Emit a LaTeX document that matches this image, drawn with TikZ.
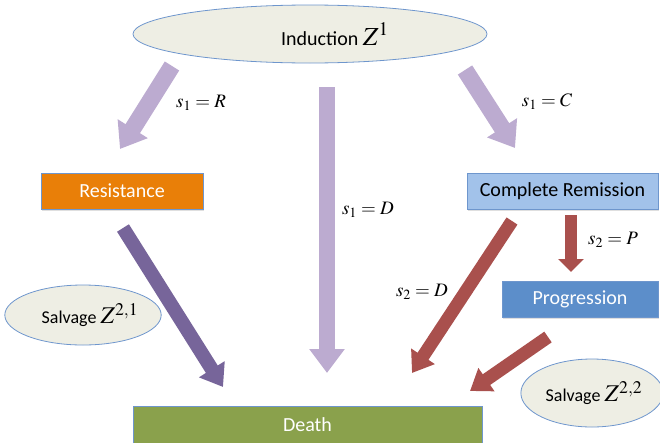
\documentclass[tikz,border=0pt]{standalone}
\usepackage{mathptmx}
\usepackage{fontspec}
\setmainfont{Carlito}
\usetikzlibrary{arrows.meta,shapes.geometric,shadows}

\definecolor{edgeblue}{RGB}{110,150,205}
\definecolor{phasefill}{RGB}{238,238,228}
\definecolor{lavender}{RGB}{188,171,208}
\definecolor{plum}{RGB}{119,101,154}
\definecolor{brick}{RGB}{169,80,77}
\definecolor{resorange}{RGB}{233,127,8}
\definecolor{crblue}{RGB}{162,194,234}
\definecolor{progblue}{RGB}{92,142,202}
\definecolor{deathgreen}{RGB}{138,161,76}

\begin{document}
\begin{tikzpicture}[
        x=1pt, y=-1pt,
        every node/.style={font=\fontsize{20}{24}\selectfont},
        phase/.style={ellipse, draw=edgeblue, fill=phasefill, line width=0.8pt, inner sep=0pt},
        state/.style={rectangle, draw=edgeblue, line width=0.6pt, minimum height=36pt, inner sep=0pt,
            drop shadow={opacity=0.25, shadow xshift=1pt, shadow yshift=-1.5pt}},
        lavarrow/.style={draw=lavender, line width=17pt, -{Triangle[length=24pt, width=34pt]}},
        plumarrow/.style={draw=plum, line width=14pt, -{Triangle[length=21pt, width=29pt]}},
        brickarrow/.style={draw=brick, line width=13pt, -{Triangle[length=20pt, width=27pt]}},
        lab/.style={font=\fontsize{19}{22}\selectfont}
    ]
        \useasboundingbox (0,0) rectangle (660,442);

        % Giai đoạn điều trị
        \node[phase, minimum width=354pt, minimum height=58pt] (ind) at (310,34)
            {\hspace{50pt}Induction {\fontsize{26}{28}\selectfont$Z^1$}};
        \node[phase, minimum width=146pt, minimum height=60pt, font=\fontsize{18}{22}\selectfont] (salv1) at (83,315)
            {\hspace{14pt}Salvage {\fontsize{24}{26}\selectfont$Z^{2,1}$}};
        \node[phase, minimum width=142pt, minimum height=68pt, font=\fontsize{18}{22}\selectfont] (salv2) at (592,393)
            {\hspace{4pt}Salvage {\fontsize{24}{26}\selectfont$Z^{2,2}$}};

        % Các trạng thái
        \node[state, fill=resorange, text=white, minimum width=162pt] (res) at (122,191) {Resistance};
        \node[state, fill=crblue, minimum width=191pt] (cr) at (562.5,191) {Complete Remission};
        \node[state, fill=progblue, text=white, minimum width=156pt] (prog) at (580,299) {Progression};
        \node[state, fill=deathgreen, text=white, minimum width=349pt, minimum height=38pt] (death) at (307.5,425) {Death};

        % Điểm đầu và cuối của các mũi tên
        \coordinate (indL) at (172,66);   \coordinate (resT) at (120,149);
        \coordinate (indM) at (327,87);   \coordinate (deathM) at (327,373);
        \coordinate (indR) at (465,70);   \coordinate (crT) at (515,148);
        \coordinate (resB) at (123,228);  \coordinate (deathL) at (223,387);
        \coordinate (crB) at (512,221);   \coordinate (deathR) at (412,373);
        \coordinate (crD) at (571,215);   \coordinate (progT) at (571,272);
        \coordinate (progB) at (548,337); \coordinate (deathRR) at (470,391);

        % Các mũi tên chuyển trạng thái
        \draw[lavarrow] (indL) -- (resT);
        \draw[lavarrow, line width=16pt] (indM) -- (deathM);
        \draw[lavarrow] (indR) -- (crT);
        \draw[plumarrow] (resB) -- (deathL);
        \draw[brickarrow] (crB) -- (deathR);
        \draw[brickarrow, line width=12pt, -{Triangle[length=13pt, width=25pt]}] (crD) -- (progT);
        \draw[brickarrow] (progB) -- (deathRR);

        % Nhãn
        \node[lab] (lR) at (201,103) {$s_1 = R$};
        \node[lab] (lC) at (547,102) {$s_1 = C$};
        \node[lab] (lD) at (368,210) {$s_1 = D$};
        \node[lab] (lD2) at (422,292) {$s_2 = D$};
        \node[lab] (lP) at (613,240) {$s_2 = P$};
    \end{tikzpicture}
\end{document}
